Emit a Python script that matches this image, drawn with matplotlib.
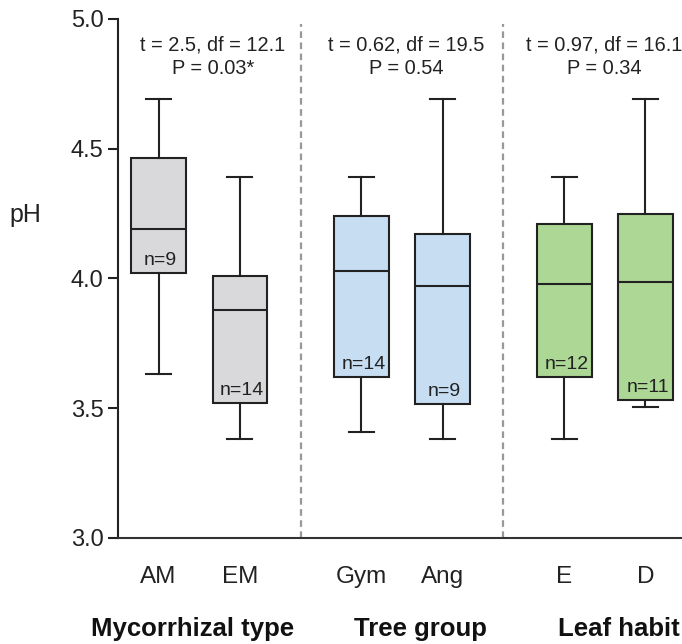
import matplotlib.pyplot as plt

plt.rcParams['font.family'] = ['Liberation Sans', 'DejaVu Sans']

# Box statistics
labels = ["AM", "EM", "Gym", "Ang", "E", "D"]
positions = [1, 2, 3.5, 4.5, 6, 7]
whislo = [3.63, 3.38, 3.41, 3.38, 3.38, 3.505]
q1 = [4.02, 3.52, 3.62, 3.515, 3.62, 3.53]
med = [4.19, 3.88, 4.03, 3.97, 3.98, 3.985]
q3 = [4.465, 4.01, 4.24, 4.17, 4.21, 4.25]
whishi = [4.69, 4.39, 4.39, 4.69, 4.39, 4.69]
n_labels = ["n=9", "n=14", "n=14", "n=9", "n=12", "n=11"]
colors = ["#d9d9db", "#d9d9db", "#c6ddf2", "#c6ddf2", "#acd794", "#acd794"]

stat_line1 = ["t = 2.5, df = 12.1", "t = 0.62, df = 19.5", "t = 0.97, df = 16.1"]
stat_line2 = ["P = 0.03*", "P = 0.54", "P = 0.34"]
stat_x = [1.67, 4.05, 6.49]
group_names = ["Mycorrhizal type", "Tree group", "Leaf habit"]
group_x = [1.42, 4.23, 6.67]
dividers = [2.75, 5.25]

fig = plt.figure(figsize=(6.82, 6.44), dpi=100)
ax = fig.add_axes([0.173, 0.1646, 0.827, 0.806])

stats = []
for i in range(len(labels)):
    stats.append({"whislo": whislo[i], "q1": q1[i], "med": med[i],
                  "q3": q3[i], "whishi": whishi[i], "fliers": []})

bp = ax.bxp(stats, positions=positions, widths=0.67, capwidths=0.31,
            patch_artist=True, showfliers=False,
            boxprops=dict(edgecolor="#222222", linewidth=1.5),
            medianprops=dict(color="#222222", linewidth=1.5),
            whiskerprops=dict(color="#222222", linewidth=1.5),
            capprops=dict(color="#222222", linewidth=1.5))
for patch, c in zip(bp["boxes"], colors):
    patch.set_facecolor(c)

for x, q, t in zip(positions, q1, n_labels):
    ax.annotate(t, (x, q), xytext=(1.5, 3), textcoords="offset points",
                ha="center", va="bottom", fontsize=14, color="#222222")

for d in dividers:
    ax.axvline(d, ymin=0, ymax=0.99, color="#999999", linestyle=(0, (3, 2)),
               linewidth=1.6)

for x, t1, t2 in zip(stat_x, stat_line1, stat_line2):
    ax.text(x, 4.90, t1, ha="center", va="center", fontsize=14.4,
            color="#222222")
    ax.text(x, 4.808, t2, ha="center", va="center", fontsize=14.4,
            color="#222222")

# group titles sit at the very bottom of the figure
for x, t in zip(group_x, group_names):
    ax.text(x, 2.622, t, ha="center", va="baseline", fontsize=18.5,
            fontweight="bold", color="#111111", clip_on=False)

ax.set_xlim(0.5, 7.45)
ax.set_ylim(3.0, 5.0)
ax.set_yticks([3.0, 3.5, 4.0, 4.5, 5.0])
ax.set_yticklabels(["3.0", "3.5", "4.0", "4.5", "5.0"])
ax.set_xticks(positions)
ax.set_xticklabels(labels)
ax.tick_params(axis="y", labelsize=17, length=7, width=1.5, colors="#222222")
ax.tick_params(axis="x", labelsize=17.5, length=0, pad=20, colors="#222222")
ax.spines["top"].set_visible(False)
ax.spines["right"].set_visible(False)
ax.spines["left"].set_linewidth(1.5)
ax.spines["bottom"].set_linewidth(1.5)
ax.spines["left"].set_color("#222222")
ax.spines["bottom"].set_color("#333333")

fig.text(25 / 682, 1 - 215 / 644, "pH", ha="center", va="center",
         fontsize=18, color="#222222")

fig.savefig("out.png", dpi=100)
